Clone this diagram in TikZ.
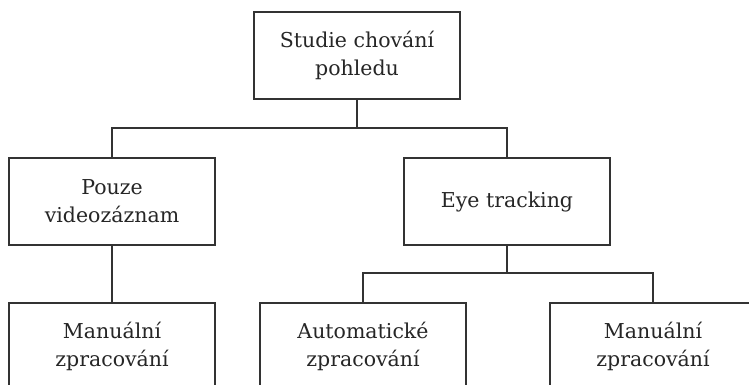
\documentclass[tikz,border=0pt]{standalone}
\usepackage{fontspec}
\setmainfont{DejaVu Serif}
\begin{document}
\begin{tikzpicture}[x=1pt,y=-1pt,
  box/.style={draw=black!80,line width=1.2pt,fill=white,minimum width=206pt,minimum height=87pt,
    align=center,inner sep=0pt,font=\fontsize{20.5}{28}\selectfont,text=black!85},
  conn/.style={draw=black!80,line width=1.2pt}]
\useasboundingbox (0,0) rectangle (749,385);
\clip (0,0) rectangle (749,385);
\node[box] (top) at (357,55.5) {Studie chování\\pohledu};
\node[box] (vid) at (112,201.5) {Pouze\\videozáznam};
\node[box] (eye) at (507,201.5) {Eye tracking};
\node[box] (m1) at (112,346.5) {Manuální\\zpracování};
\node[box] (auto) at (363,346.5) {Automatické\\zpracování};
\node[box] (m2) at (653,346.5) {Manuální\\zpracování};
\coordinate (j1) at (357,128);
\coordinate (j2) at (507,273);
\draw[conn] (top.south) -- (j1) -| (vid.north);
\draw[conn] (j1) -| (eye.north);
\draw[conn] (vid.south) -- (m1.north);
\draw[conn] (eye.south) -- (j2) -| (auto.north);
\draw[conn] (j2) -| (m2.north);
\end{tikzpicture}
\end{document}
